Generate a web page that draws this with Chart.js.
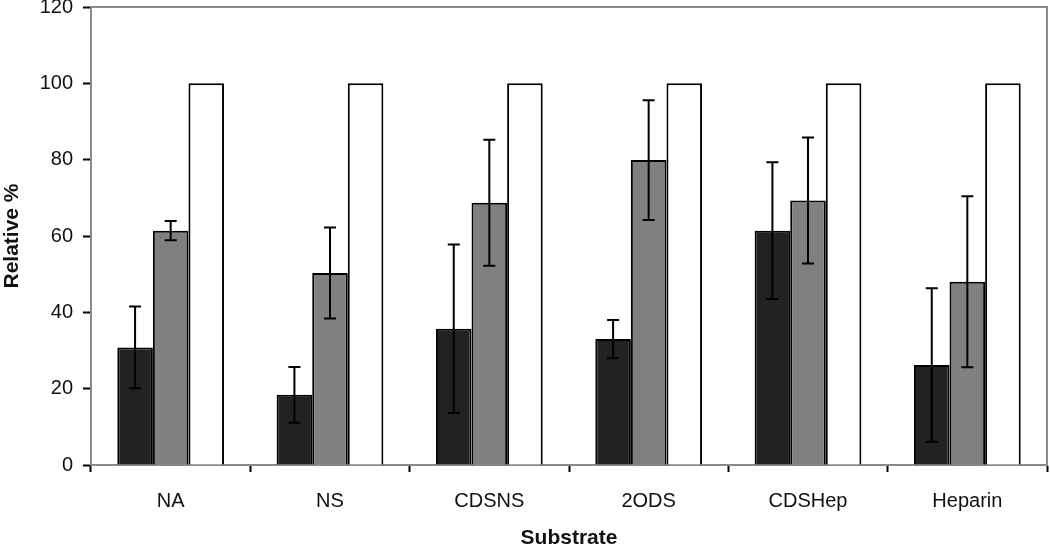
<!DOCTYPE html>
<html>
<head>
<meta charset="utf-8">
<script src="https://cdn.jsdelivr.net/npm/chart.js@4.4.1/dist/chart.umd.min.js"></script>
<style>
  html, body { margin: 0; padding: 0; background: #fff; }
  #wrap { width: 1050px; height: 548px; position: relative; }
</style>
</head>
<body>
<div id="wrap"><canvas id="chart"></canvas></div>
<script>
const categories = ['NA', 'NS', 'CDSNS', '2ODS', 'CDSHep', 'Heparin'];

const darkValues = [30.8, 18.4, 35.7, 33.0, 61.4, 26.2];
const darkErrors = [10.7, 7.3, 22.1, 5.0, 17.9, 20.1];

const greyValues = [61.4, 50.3, 68.7, 79.9, 69.3, 48.0];
const greyErrors = [2.5, 11.9, 16.5, 15.7, 16.5, 22.4];

const whiteValues = [100, 100, 100, 100, 100, 100];

const yTicks = [0, 20, 40, 60, 80, 100, 120];

const black = '#000000';
const dark = '#222222';
const grey = '#808080';
const white = '#ffffff';
const frame = '#8a8a8a';

const fontFamily = '"Liberation Sans", Arial, sans-serif';

// grey frame round the plot area (top and right sides show in the original)
const framePlugin = {
    id: 'frame',
    beforeDatasetsDraw(chart) {
        const a = chart.chartArea;
        const ctx = chart.ctx;
        ctx.save();
        ctx.strokeStyle = frame;
        ctx.lineWidth = 2;
        ctx.strokeRect(a.left, a.top, a.right - a.left, a.bottom - a.top);
        ctx.restore();
    }
};

// error bars from each dataset's "errors" list
const errorBarPlugin = {
    id: 'errorBars',
    afterDatasetsDraw(chart) {
        const ctx = chart.ctx;
        const yScale = chart.scales.y;
        chart.data.datasets.forEach((ds, i) => {
            if (!ds.errors) return;
            const meta = chart.getDatasetMeta(i);
            meta.data.forEach((bar, j) => {
                const v = ds.data[j];
                const e = ds.errors[j];
                const yHi = yScale.getPixelForValue(v + e);
                const yLo = yScale.getPixelForValue(v - e);
                const x = bar.x;
                const cap = 6;
                ctx.save();
                ctx.strokeStyle = black;
                ctx.lineWidth = 2;
                ctx.beginPath();
                ctx.moveTo(x, yHi);
                ctx.lineTo(x, yLo);
                ctx.moveTo(x - cap, yHi);
                ctx.lineTo(x + cap, yHi);
                ctx.moveTo(x - cap, yLo);
                ctx.lineTo(x + cap, yLo);
                ctx.stroke();
                ctx.restore();
            });
        });
    }
};

var ctx = document.getElementById('chart').getContext('2d');

var chart = new Chart(ctx, {
    type: 'bar',
    data: {
        labels: categories,
        datasets: [{
            data: darkValues,
            errors: darkErrors,
            backgroundColor: dark,
            borderColor: black,
            borderWidth: 2
        }, {
            data: greyValues,
            errors: greyErrors,
            backgroundColor: grey,
            borderColor: black,
            borderWidth: 2
        }, {
            data: whiteValues,
            backgroundColor: white,
            borderColor: black,
            borderWidth: 2
        }]
    },
    options: {
        responsive: true,
        maintainAspectRatio: false,
        animation: false,
        categoryPercentage: 0.67,
        barPercentage: 1.0,
        layout: {
            padding: { left: 0, top: 7, right: 3, bottom: 0 }
        },
        plugins: {
            legend: { display: false },
            tooltip: { enabled: false }
        },
        scales: {
            x: {
                grid: {
                    offset: true,
                    drawOnChartArea: false,
                    tickLength: 7,
                    tickColor: black,
                    tickWidth: 2
                },
                border: { color: black, width: 2 },
                ticks: {
                    color: '#111',
                    padding: 17,
                    font: { family: fontFamily, size: 20 }
                },
                title: {
                    display: true,
                    text: 'Substrate',
                    color: '#111',
                    padding: { top: 0, bottom: -3 },
                    font: { family: fontFamily, size: 21, weight: 'bold' }
                },
                afterFit(scale) {
                    scale.height = 83;
                    scale.paddingLeft = 0;
                    scale.paddingRight = 0;
                }
            },
            y: {
                min: 0,
                max: 120,
                afterBuildTicks(scale) {
                    scale.ticks = yTicks.map(v => ({ value: v }));
                },
                grid: {
                    drawOnChartArea: false,
                    tickLength: 8,
                    tickColor: black,
                    tickWidth: 2
                },
                border: { color: black, width: 2 },
                ticks: {
                    color: '#111',
                    padding: 10,
                    font: { family: fontFamily, size: 20 }
                },
                title: {
                    display: true,
                    text: 'Relative %',
                    color: '#111',
                    padding: { top: 0, bottom: 0 },
                    font: { family: fontFamily, size: 21, weight: 'bold' }
                },
                afterFit(scale) {
                    scale.width = 91;
                    scale.paddingTop = 0;
                    scale.paddingBottom = 0;
                }
            }
        }
    },
    plugins: [framePlugin, errorBarPlugin]
});
</script>
</body>
</html>
